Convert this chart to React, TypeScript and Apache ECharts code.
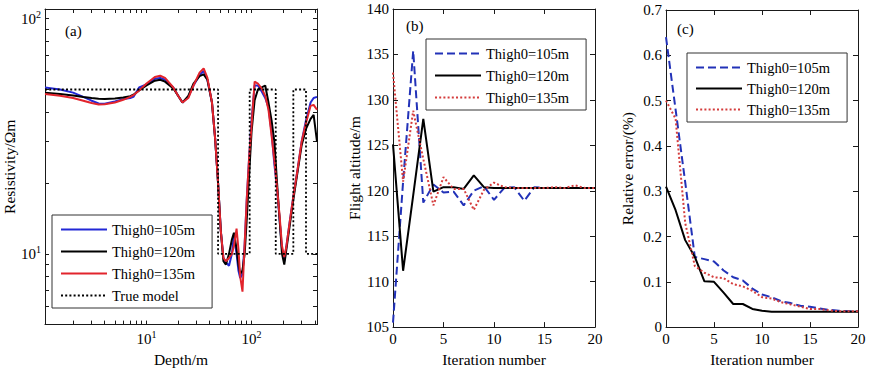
import React, { useEffect, useRef } from 'react';
import * as echarts from 'echarts';

// ---------- Panel (a): resistivity vs depth (log-log) ----------
const depthA = [1.08, 1.5, 2, 2.5, 3, 3.5, 4, 5, 6, 7, 7.5, 8.5, 10, 12, 13.5, 15, 18, 20, 22, 25, 28, 32, 35, 38, 42, 45, 48, 51, 54, 57, 61, 65, 68, 72, 75, 78, 82, 86, 90, 95, 100, 107, 115, 125, 135, 145, 155, 165, 175, 185, 195, 205, 215, 230, 250, 275, 300, 330, 365, 390, 420];
const res105 = [51, 50, 48.5, 46.5, 44.8, 43.6, 43.5, 44.5, 45.5, 46, 46.5, 51, 52.5, 55.5, 56, 55, 51, 47, 44, 46.5, 52, 57.5, 60, 55, 44, 31, 20, 12.5, 9.6, 9.2, 8.9, 10, 12, 10, 8.5, 7.9, 8.2, 11, 17, 26, 37, 52, 52, 49, 46, 42, 33, 24, 19, 14, 10.5, 9.3, 10.8, 13.5, 17.5, 23, 30, 37, 44, 46, 46.5];
const res120 = [48.4, 47.8, 47.2, 46.5, 46, 45.7, 45.6, 45.8, 46.2, 46.8, 47.5, 49.5, 52, 54.5, 55, 54, 50.5, 47, 44, 47, 53, 57, 58, 55, 44, 31, 20, 12.5, 9.3, 9.0, 10, 11.5, 12.3, 10.5, 9, 8.2, 8.5, 10, 14, 22, 33, 45, 50, 51, 52, 44, 37, 30, 20, 14, 10, 9.0, 10.5, 13, 17, 22.5, 29, 34, 37.5, 39, 30];
const res135 = [47.9, 47, 46, 44.8, 43.8, 43.2, 43.3, 44, 45.2, 46.5, 47.3, 49.5, 53, 56.5, 57.2, 56, 51, 47, 44, 46, 52, 59, 61.5, 56, 44, 31, 20, 12.5, 9.6, 9.3, 9.6, 10.0, 10.8, 12.8, 10.5, 8, 6.9, 11, 17, 26, 35, 54, 53, 50.5, 47, 41, 32, 25, 19, 14.5, 10.8, 9.7, 10.8, 13.5, 17.5, 23, 30, 36, 42.6, 43, 41];
const trueDepth = [1.08, 48, 48, 96, 96, 170, 170, 250, 250, 330, 330, 420];
const trueRes = [50, 50, 10, 10, 50, 50, 10, 10, 50, 50, 10, 10];
const depthTicks = [2, 3, 4, 5, 6, 7, 8, 9, 10, 20, 30, 40, 50, 60, 70, 80, 90, 100, 200, 300, 400];
const depthLabels = [10, 100];
const resTicks = [5, 6, 7, 8, 9, 10, 20, 30, 40, 50, 60, 70, 80, 90, 100];
const resLabels = [10, 100];

// ---------- Panel (b) and (c): vs iteration ----------
const iterations = [0, 1, 2, 3, 4, 5, 6, 7, 8, 9, 10, 11, 12, 13, 14, 15, 16, 17, 18, 19, 20];
const alt105 = [105.5, 121, 135.4, 118.7, 120.7, 119.8, 119.9, 118.4, 120.0, 120.5, 119.0, 120.3, 120.4, 118.9, 120.4, 120.3, 120.3, 120.3, 120.3, 120.3, 120.3];
const alt120 = [125.1, 111.2, 119.5, 127.9, 119.9, 120.4, 120.4, 120.2, 121.7, 120.4, 120.3, 120.3, 120.3, 120.3, 120.3, 120.3, 120.3, 120.3, 120.3, 120.3, 120.3];
const alt135 = [133, 121, 128.8, 123.5, 118.4, 121.5, 120.2, 120.2, 117.9, 120.1, 120.9, 120.4, 120.3, 120.3, 120.3, 120.3, 120.4, 120.3, 120.6, 120.3, 120.3];
const err105 = [0.64, 0.48, 0.32, 0.155, 0.15, 0.145, 0.125, 0.11, 0.103, 0.085, 0.072, 0.066, 0.057, 0.053, 0.047, 0.045, 0.041, 0.038, 0.036, 0.035, 0.035];
const err120 = [0.31, 0.258, 0.192, 0.155, 0.101, 0.1, 0.076, 0.051, 0.051, 0.04, 0.036, 0.034, 0.034, 0.034, 0.034, 0.034, 0.034, 0.034, 0.034, 0.034, 0.034];
const err135 = [0.5, 0.46, 0.23, 0.135, 0.12, 0.11, 0.108, 0.095, 0.09, 0.08, 0.066, 0.063, 0.055, 0.05, 0.045, 0.04, 0.04, 0.037, 0.035, 0.035, 0.035];

const names = ['Thigh0=105m', 'Thigh0=120m', 'Thigh0=135m'];
const trueName = 'True model';

const FONT = 'Liberation Serif, Times New Roman, serif';
const AXIS_COLOR = '#1a1a1a';
const BLUE_A = '#2228d6';
const RED_A = '#e2242c';
const BLUE_B = '#2232b8';
const RED_B = '#d43c3c';
const DASH: number[] = [8, 4];
const DOT: number[] = [2, 2.2];

const pair = (xs: number[], ys: number[]) => xs.map((x, i) => [x, ys[i]]);

const supFormatter = (v: number) => `{b|10}{s|${Math.round(Math.log10(v))}}`;
const supRich = {
  b: { fontFamily: FONT, fontSize: 15, color: '#000', lineHeight: 18 },
  s: { fontFamily: FONT, fontSize: 10, color: '#000', lineHeight: 10, verticalAlign: 'top' },
};

const axisLine = { show: true, onZero: false, lineStyle: { color: AXIS_COLOR, width: 1 } };
const labelStyle = { fontFamily: FONT, fontSize: 15, color: '#000' };
const nameStyle = { fontFamily: FONT, fontSize: 15.5, color: '#000' };

function logX(grid: number, pos: 'bottom' | 'top') {
  const main = pos === 'bottom';
  return {
    type: 'log', logBase: 10, gridIndex: grid, position: pos, min: 1.08, max: 420,
    axisLine, splitLine: { show: false },
    axisTick: { show: true, inside: true, length: 4, customValues: depthTicks, lineStyle: { color: AXIS_COLOR } },
    axisLabel: main
      ? { show: true, customValues: depthLabels, formatter: supFormatter, rich: supRich, margin: 5 }
      : { show: false },
    name: main ? 'Depth/m' : '', nameLocation: 'middle', nameGap: 23, nameTextStyle: nameStyle,
  };
}
function logY(grid: number, pos: 'left' | 'right') {
  const main = pos === 'left';
  return {
    type: 'log', logBase: 10, gridIndex: grid, position: pos, min: 5, max: 110,
    axisLine, splitLine: { show: false },
    axisTick: { show: true, inside: true, length: 4, customValues: resTicks, lineStyle: { color: AXIS_COLOR } },
    axisLabel: main
      ? { show: true, customValues: resLabels, formatter: supFormatter, rich: supRich, margin: 4 }
      : { show: false },
    name: main ? 'Resistivity/\u03a9m' : '', nameLocation: 'middle', nameGap: 26, nameTextStyle: nameStyle,
  };
}
function valAxis(grid: number, pos: string, min: number, max: number, interval: number, name: string, nameGap: number) {
  const main = pos === 'bottom' || pos === 'left';
  return {
    type: 'value', gridIndex: grid, position: pos, min, max, interval,
    axisLine, splitLine: { show: false },
    axisTick: { show: true, inside: true, length: 5, lineStyle: { color: AXIS_COLOR } },
    axisLabel: main ? { show: true, ...labelStyle, margin: 4 } : { show: false },
    name: main ? name : '', nameLocation: 'middle', nameGap, nameTextStyle: nameStyle,
  };
}

function lineSeries(name: string, data: number[][], xi: number, yi: number, color: string, type: any, width = 2) {
  return {
    type: 'line', name, data, xAxisIndex: xi, yAxisIndex: yi,
    symbol: 'none', showSymbol: false, clip: true,
    lineStyle: { color, width, type },
    itemStyle: { color },
    emphasis: { disabled: true },
  };
}

const hiddenSymbol = { color: 'rgba(0,0,0,0)', borderWidth: 0, opacity: 0 };

function legend(left: number, top: number, gap: number, items: any[]) {
  return {
    show: true, orient: 'vertical', left, top, itemWidth: 46, itemHeight: 14, itemGap: gap,
    padding: [7, 17, 5, 8], borderColor: '#333', borderWidth: 1, borderRadius: 0,
    backgroundColor: '#fff', selectedMode: false,
    textStyle: { fontFamily: FONT, fontSize: 14.5, color: '#000' },
    data: items.map((it) => ({ ...it, itemStyle: hiddenSymbol })),
  };
}

export default function App() {
  const ref = useRef<HTMLDivElement>(null);
  useEffect(() => {
    if (!ref.current) return;
    const chart = echarts.init(ref.current, undefined, { renderer: 'svg' });
    const option: any = {
      animation: false,
      backgroundColor: '#fff',
      textStyle: { fontFamily: FONT },
      grid: [
        { left: 45, top: 9, width: 272, height: 323, containLabel: false },
        { left: 393, top: 9, width: 202, height: 323, containLabel: false },
        { left: 666, top: 10, width: 192, height: 322, containLabel: false },
      ],
      xAxis: [
        logX(0, 'bottom'), logX(0, 'top'),
        valAxis(1, 'bottom', 0, 20, 5, 'Iteration number', 17), valAxis(1, 'top', 0, 20, 5, '', 0),
        valAxis(2, 'bottom', 0, 20, 5, 'Iteration number', 17), valAxis(2, 'top', 0, 20, 5, '', 0),
      ],
      yAxis: [
        logY(0, 'left'), logY(0, 'right'),
        valAxis(1, 'left', 105, 140, 5, 'Flight altitude/m', 31), valAxis(1, 'right', 105, 140, 5, '', 0),
        valAxis(2, 'left', 0, 0.7, 0.1, 'Relative error/(%)', 31), valAxis(2, 'right', 0, 0.7, 0.1, '', 0),
      ],
      legend: [
        legend(52, 215, 7, [
          { name: names[0], lineStyle: { color: BLUE_A, type: 'solid', width: 2 } },
          { name: names[1], lineStyle: { color: '#000', type: 'solid', width: 2 } },
          { name: names[2], lineStyle: { color: RED_A, type: 'solid', width: 2 } },
          { name: trueName, lineStyle: { color: '#000', type: DOT, width: 1.8 } },
        ]),
        legend(426, 39, 7, [
          { name: names[0], lineStyle: { color: BLUE_B, type: DASH, width: 2 } },
          { name: names[1], lineStyle: { color: '#000', type: 'solid', width: 2 } },
          { name: names[2], lineStyle: { color: RED_B, type: DOT, width: 2 } },
        ]),
        legend(687, 53, 6, [
          { name: names[0], lineStyle: { color: BLUE_B, type: DASH, width: 2 } },
          { name: names[1], lineStyle: { color: '#000', type: 'solid', width: 2 } },
          { name: names[2], lineStyle: { color: RED_B, type: DOT, width: 2 } },
        ]),
      ],
      graphic: [
        { type: 'text', x: 65, y: 31, style: { text: '(a)', fontFamily: FONT, fontSize: 15, fill: '#000', verticalAlign: 'middle' } },
        { type: 'text', x: 406, y: 26, style: { text: '(b)', fontFamily: FONT, fontSize: 15, fill: '#000', verticalAlign: 'middle' } },
        { type: 'text', x: 677, y: 29, style: { text: '(c)', fontFamily: FONT, fontSize: 15, fill: '#000', verticalAlign: 'middle' } },
      ],
      series: [
        lineSeries(names[0], pair(depthA, res105), 0, 0, BLUE_A, 'solid'),
        lineSeries(names[1], pair(depthA, res120), 0, 0, '#000', 'solid'),
        lineSeries(names[2], pair(depthA, res135), 0, 0, RED_A, 'solid'),
        lineSeries(trueName, pair(trueDepth, trueRes), 0, 0, '#000', DOT, 1.8),
        lineSeries(names[0], pair(iterations, alt105), 2, 2, BLUE_B, DASH),
        lineSeries(names[1], pair(iterations, alt120), 2, 2, '#000', 'solid'),
        lineSeries(names[2], pair(iterations, alt135), 2, 2, RED_B, DOT),
        lineSeries(names[0], pair(iterations, err105), 4, 4, BLUE_B, DASH),
        lineSeries(names[1], pair(iterations, err120), 4, 4, '#000', 'solid'),
        lineSeries(names[2], pair(iterations, err135), 4, 4, RED_B, DOT),
      ],
    };
    chart.setOption(option);
    return () => chart.dispose();
  }, []);
  return (
    <div style={{ position: 'fixed', left: 0, top: 0, width: 869, height: 372, background: '#fff' }}>
      <div ref={ref} style={{ width: 869, height: 372 }} />
    </div>
  );
}
